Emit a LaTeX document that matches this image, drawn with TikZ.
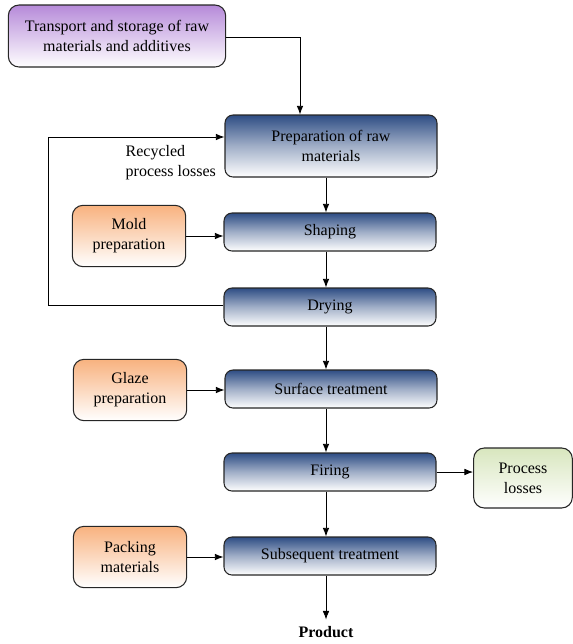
\documentclass[tikz,border=0pt]{standalone}
\usepackage{fontspec}
\setmainfont{Liberation Serif}
\usetikzlibrary{shapes,arrows.meta,calc,positioning}

\definecolor{stepblue}{HTML}{2E4D84}
\definecolor{sidepurple}{HTML}{B68AD9}
\definecolor{sideorange}{HTML}{F8B27F}
\definecolor{sidegreen}{HTML}{D8E6BE}

\tikzset{
  stepbox/.style={draw=black!85, line width=0.8pt, rounded corners=6pt,
    top color=stepblue, bottom color=white, middle color=stepblue!45,
    minimum width=159pt, minimum height=28.5pt, align=center},
  sidebox/.style={draw=black!85, line width=0.8pt, rounded corners=8pt,
    bottom color=white, minimum width=85pt, minimum height=46pt, align=center},
  flow/.style={-{Latex[length=6.5pt,width=5pt]}, line width=0.7pt}
}

\begin{document}
\begin{tikzpicture}[x=0.75pt, y=-0.75pt, font=\fontsize{12}{15}\selectfont]
  \useasboundingbox (0,0) rectangle (573,644);

  \node [sidebox, top color=sidepurple, minimum width=163pt, minimum height=46.5pt] at (117,36) (raw) {Transport and storage of raw\\materials and additives};

  \node [stepbox, minimum height=46.5pt] at (331,146) (prep) {Preparation of raw\\materials};
  \node [stepbox] at (330,232) (shape) {Shaping};
  \node [stepbox] at (330,307) (dry) {Drying};
  \node [stepbox] at (331,389) (surf) {Surface treatment};
  \node [stepbox] at (330,472) (fire) {Firing};
  \node [stepbox] at (330,556) (sub) {Subsequent treatment};
  \node [font=\fontsize{12}{15}\selectfont\bfseries] at (326,632) (prod) {Product};

  \node [sidebox, top color=sideorange] at (129,236) (mold) {Mold\\preparation};
  \node [sidebox, top color=sideorange] at (130,390) (glaze) {Glaze\\preparation};
  \node [sidebox, top color=sideorange] at (130,557) (pack) {Packing\\materials};
  \node [sidebox, top color=sidegreen, minimum width=74pt, minimum height=45pt] at (523,478) (loss) {Process\\losses};

  \node [align=left, anchor=west] at (121,163) (recyc) {Recycled\\process losses};

  \coordinate (c1) at (48,305);
  \coordinate (c2) at (48,137);

  \draw [flow] (raw.east |- 0,37) -| (300,0 |- prep.north);
  \draw [flow] (prep.south -| 326,0) -- (shape.north -| 326,0);
  \draw [flow] (shape.south -| 326,0) -- (dry.north -| 326,0);
  \draw [flow] (dry.south -| 326,0) -- (surf.north -| 326,0);
  \draw [flow] (surf.south -| 326,0) -- (fire.north -| 326,0);
  \draw [flow] (fire.south -| 326,0) -- (sub.north -| 326,0);
  \draw [flow] (sub.south -| 326,0) -- ($(prod.north)+(0,-2)$);

  \draw [flow] (mold) -- (shape.west |- mold);
  \draw [flow] (glaze) -- (surf.west |- glaze);
  \draw [flow] (pack) -- (sub.west |- pack);
  \draw [flow] (fire) -- (loss.west |- fire);

  \draw [flow] (dry.west |- c1) -- (c1) -- (c2) -- (prep.west |- c2);
\end{tikzpicture}
\end{document}
